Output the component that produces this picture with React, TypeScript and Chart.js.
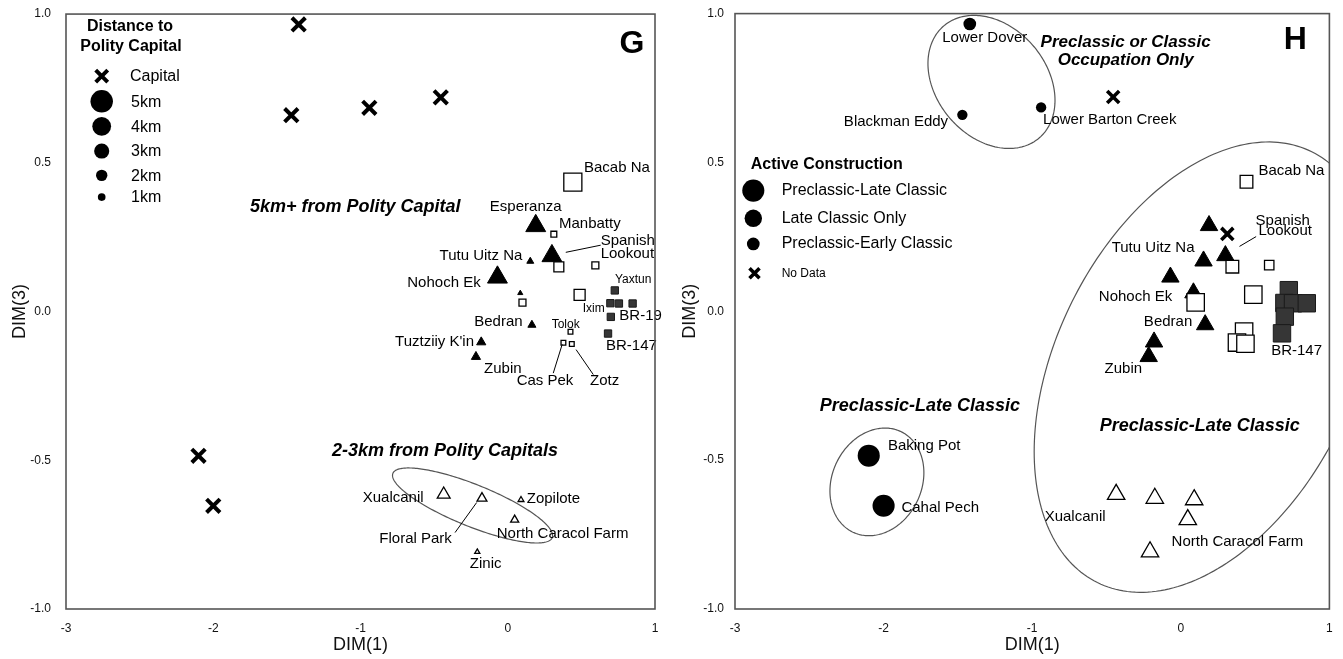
import React, { useEffect, useRef } from "react";
import { Chart, registerables } from "chart.js";

Chart.register(...registerables);

const FONT = '"Liberation Sans", Arial, Helvetica, sans-serif';

// ---------------- data ----------------
const SITE_NAMES = [
  "Lower Dover", "Blackman Eddy", "Lower Barton Creek", "Capital (unlabelled)", "Baking Pot", "Cahal Pech",
  "Bacab Na", "Esperanza", "Manbatty", "Spanish Lookout", "Site (unlabelled) 1", "Site (unlabelled) 2",
  "Tutu Uitz Na", "Nohoch Ek", "Site (unlabelled) 3", "Site (unlabelled) 4", "Site (unlabelled) 5",
  "Yaxtun", "Ixim", "Site (unlabelled) 6", "Site (unlabelled) 7", "BR-19", "BR-147",
  "Bedran", "Tolok", "Cas Pek", "Zotz", "Tuztziiy K'in", "Zubin",
  "Xualcanil", "Floral Park", "Zopilote", "North Caracol Farm", "Zinic",
];
const DIM1 = [
  -1.42, -1.47, -0.94, -0.455, -2.1, -2.0,
  0.442, 0.19, 0.313, 0.3, 0.347, 0.595,
  0.153, -0.07, 0.085, 0.1, 0.488,
  0.727, 0.697, 0.755, 0.848, 0.7, 0.681,
  0.164, 0.426, 0.378, 0.435, -0.18, -0.216,
  -0.435, -0.175, 0.09, 0.047, -0.207,
];
const DIM3 = [
  0.965, 0.66, 0.685, 0.72, -0.485, -0.653,
  0.435, 0.288, 0.26, 0.187, 0.15, 0.155,
  0.169, 0.115, 0.062, 0.03, 0.056,
  0.071, 0.028, 0.027, 0.027, -0.018, -0.074,
  -0.045, -0.068, -0.105, -0.109, -0.103, -0.152,
  -0.615, -0.628, -0.633, -0.7, -0.808,
];
const SITE_TYPE = [
  "capital", "capital", "capital", "capital", "capital", "capital",
  "openSquare", "filledTriangle", "openSquare", "filledTriangle", "openSquare", "openSquare",
  "filledTriangle", "filledTriangle", "filledTriangle", "openSquare", "openSquare",
  "filledSquare", "filledSquare", "filledSquare", "filledSquare", "filledSquare", "filledSquare",
  "filledTriangle", "openSquare", "openSquare", "openSquare", "filledTriangle", "filledTriangle",
  "openTriangle", "openTriangle", "openTriangle", "openTriangle", "openTriangle",
];
// panel G: marker size = distance to polity capital (km); capitals have none
const DISTANCE_KM = [
  null, null, null, null, null, null,
  3.8, 4.3, 0.5, 4.3, 1.6, 0.8,
  0.8, 4.3, 0.3, 0.8, 1.9,
  0.9, 0.9, 0.9, 0.9, 0.9, 0.9,
  1.1, 0.2, 0.2, 0.2, 1.4, 1.4,
  2.4, 1.6, 0.5, 1.1, 0.3,
];
// panel H: marker size = active construction level (3 Preclassic-Late Classic, 2 Late Classic Only, 1 Preclassic-Early Classic); null = no data
const CONSTRUCTION_LEVEL = [
  1, 0.5, 0.5, null, 3, 3,
  1, 2, null, 2, 1, 0.3,
  2, 2, 2, 2, 2,
  2, 2, 2, 2, 2, 2,
  2, 2, 2, 2, 2, 2,
  2, 2, 2, 2, 2,
];

const X_TICKS = [-3, -2, -1, 0, 1];
const Y_TICKS = [-1, -0.5, 0, 0.5, 1];

const DISTANCE_LEGEND_KM = [5, 4, 3, 2, 1];
const CONSTRUCTION_LEGEND = ["Preclassic-Late Classic", "Late Classic Only", "Preclassic-Early Classic"];
const CONSTRUCTION_LEGEND_LEVEL = [3, 2, 1];

// ---------------- annotations (data coordinates) ----------------
type Lbl = [string, number, number, CanvasTextAlign, number?];

const G_LABELS: Lbl[] = [
  ["Bacab Na", 0.518, 0.482, "left"],
  ["Esperanza", 0.122, 0.352, "center"],
  ["Manbatty", 0.348, 0.296, "left"],
  ["Spanish", 0.631, 0.237, "left"],
  ["Lookout", 0.631, 0.195, "left"],
  ["Tutu Uitz Na", 0.099, 0.187, "right"],
  ["Nohoch Ek", -0.184, 0.095, "right"],
  ["Yaxtun", 0.728, 0.106, "left", 12],
  ["Ixim", 0.509, 0.011, "left", 12],
  ["BR-19", 0.758, -0.013, "left"],
  ["Bedran", 0.101, -0.034, "right"],
  ["Tolok", 0.298, -0.045, "left", 12],
  ["Tuztziiy K'in", -0.229, -0.103, "right"],
  ["BR-147", 0.667, -0.117, "left"],
  ["Zubin", -0.161, -0.192, "left"],
  ["Cas Pek", 0.253, -0.234, "center"],
  ["Zotz", 0.559, -0.232, "left"],
  ["Xualcanil", -0.985, -0.627, "left"],
  ["Zopilote", 0.129, -0.629, "left"],
  ["Floral Park", -0.872, -0.765, "left"],
  ["North Caracol Farm", -0.075, -0.748, "left"],
  ["Zinic", -0.15, -0.847, "center"],
];
const G_TITLES: Lbl[] = [
  ["5km+ from Polity Capital", -1.75, 0.352, "left", 18],
  ["2-3km from Polity Capitals", 0.341, -0.469, "right", 18],
];
const G_LINES: number[][] = [
  [0.394, 0.199, 0.631, 0.223],
  [0.37, -0.11, 0.309, -0.207],
  [0.464, -0.128, 0.581, -0.212],
  [-0.358, -0.743, -0.211, -0.642],
];
// ellipse: centre, first semi-axis vector, second semi-axis vector (data units)
const G_ELLIPSES: number[][] = [[-0.239, -0.652, 0.541, -0.108, -0.0534, -0.0652]];

const H_LABELS: Lbl[] = [
  ["Lower Dover", -1.319, 0.918, "center"],
  ["Blackman Eddy", -1.566, 0.637, "right"],
  ["Lower Barton Creek", -0.927, 0.642, "left"],
  ["Bacab Na", 0.523, 0.471, "left"],
  ["Spanish", 0.503, 0.305, "left"],
  ["Lookout", 0.523, 0.271, "left"],
  ["Tutu Uitz Na", 0.092, 0.212, "right"],
  ["Nohoch Ek", -0.058, 0.05, "right"],
  ["Bedran", 0.077, -0.034, "right"],
  ["BR-147", 0.608, -0.134, "left"],
  ["Zubin", -0.513, -0.192, "left"],
  ["Baking Pot", -1.971, -0.452, "left"],
  ["Cahal Pech", -1.88, -0.661, "left"],
  ["Xualcanil", -0.916, -0.689, "left"],
  ["North Caracol Farm", -0.062, -0.775, "left"],
];
const H_TITLES: Lbl[] = [
  ["Preclassic or Classic", -0.371, 0.905, "center", 17],
  ["Occupation Only", -0.371, 0.844, "center", 17],
  ["Preclassic-Late Classic", -2.429, -0.318, "left", 18],
  ["Preclassic-Late Classic", -0.546, -0.385, "left", 18],
];
const H_LINES: number[][] = [[0.395, 0.218, 0.507, 0.251]];
const H_ELLIPSES: number[][] = [
  [-1.274, 0.7705, 0.3186, -0.1892, -0.285, -0.119],
  [-2.045, -0.573, 0.161, 0.169, 0.272, -0.0643],
  [0.16, -0.1876, 0.7213, 0.7236, 0.8914, -0.2204],
];

// ---------------- styling helpers ----------------
const gSize = (km: number) => 4 + 3.7 * km;
const hSize = (lvl: number) => 8 + 4.7 * lvl;
const radiusFor = (style: string, s: number) =>
  style === "rect" ? s / Math.SQRT2 : style === "triangle" ? s / Math.sqrt(3) : s / 2;

const TYPE_STYLE: Record<string, { style: string; bg: string; border: string; bw: number; order: number }> = {
  filledTriangle: { style: "triangle", bg: "#000", border: "#000", bw: 1, order: 6 },
  openSquare: { style: "rect", bg: "#fff", border: "#000", bw: 1.3, order: 5 },
  filledSquare: { style: "rect", bg: "#363636", border: "#1a1a1a", bw: 1, order: 4 },
  openTriangle: { style: "triangle", bg: "#fff", border: "#000", bw: 1.3, order: 3 },
};

function buildDatasets(panel: "G" | "H") {
  const sets: any[] = [];
  const idx = SITE_NAMES.map((_, i) => i);
  for (const t of Object.keys(TYPE_STYLE)) {
    const st = TYPE_STYLE[t];
    const members = idx.filter(
      (i) => SITE_TYPE[i] === t && (panel === "G" || CONSTRUCTION_LEVEL[i] !== null)
    );
    const radii = members.map((i) =>
      radiusFor(st.style, panel === "G" ? gSize(DISTANCE_KM[i] as number) : hSize(CONSTRUCTION_LEVEL[i] as number))
    );
    sets.push({
      label: t,
      data: members.map((i) => ({ x: DIM1[i], y: DIM3[i] })),
      pointStyle: st.style,
      pointRadius: radii,
      pointHoverRadius: radii,
      backgroundColor: st.bg,
      borderColor: st.border,
      pointBackgroundColor: st.bg,
      pointBorderColor: st.border,
      pointBorderWidth: st.bw,
      order: st.order,
    });
  }
  if (panel === "H") {
    const circ = idx.filter((i) => SITE_TYPE[i] === "capital" && CONSTRUCTION_LEVEL[i] !== null);
    const r = circ.map((i) => hSize(CONSTRUCTION_LEVEL[i] as number) / 2);
    sets.push({
      label: "capital",
      data: circ.map((i) => ({ x: DIM1[i], y: DIM3[i] })),
      pointStyle: "circle",
      pointRadius: r,
      pointHoverRadius: r,
      backgroundColor: "#000",
      borderColor: "#000",
      pointBorderWidth: 0,
      order: 2,
    });
  }
  const xs = idx.filter((i) =>
    panel === "G" ? SITE_TYPE[i] === "capital" : CONSTRUCTION_LEVEL[i] === null
  );
  const xr = panel === "G" ? 9.5 : 8.5;
  sets.push({
    label: "cross",
    data: xs.map((i) => ({ x: DIM1[i], y: DIM3[i] })),
    pointStyle: "crossRot",
    pointRadius: xr,
    pointHoverRadius: xr,
    backgroundColor: "#000",
    borderColor: "#000",
    pointBorderWidth: panel === "G" ? 4 : 3.6,
    order: 1,
  });
  return sets;
}

function drawX(ctx: CanvasRenderingContext2D, x: number, y: number, h: number, w: number) {
  ctx.save();
  ctx.strokeStyle = "#000";
  ctx.lineWidth = w;
  ctx.beginPath();
  ctx.moveTo(x - h, y - h);
  ctx.lineTo(x + h, y + h);
  ctx.moveTo(x + h, y - h);
  ctx.lineTo(x - h, y + h);
  ctx.stroke();
  ctx.restore();
}

function overlay(panel: "G" | "H") {
  const ellipses = panel === "G" ? G_ELLIPSES : H_ELLIPSES;
  const labels = panel === "G" ? G_LABELS : H_LABELS;
  const titles = panel === "G" ? G_TITLES : H_TITLES;
  const lines = panel === "G" ? G_LINES : H_LINES;
  return {
    id: "overlay" + panel,
    beforeDatasetsDraw(chart: any) {
      const { ctx, chartArea: a, scales } = chart;
      const sx = scales.x, sy = scales.y;
      ctx.save();
      ctx.beginPath();
      ctx.rect(a.left, a.top, a.right - a.left, a.bottom - a.top);
      ctx.clip();
      ctx.strokeStyle = "#555";
      ctx.lineWidth = 1.2;
      for (const e of ellipses) {
        ctx.beginPath();
        for (let k = 0; k <= 240; k++) {
          const t = (k / 240) * Math.PI * 2;
          const dx = e[0] + e[2] * Math.cos(t) + e[4] * Math.sin(t);
          const dy = e[1] + e[3] * Math.cos(t) + e[5] * Math.sin(t);
          const X = sx.getPixelForValue(dx), Y = sy.getPixelForValue(dy);
          if (k === 0) ctx.moveTo(X, Y); else ctx.lineTo(X, Y);
        }
        ctx.closePath();
        ctx.stroke();
      }
      ctx.restore();
    },
    afterDatasetsDraw(chart: any) {
      const { ctx, chartArea: a, scales } = chart;
      const sx = scales.x, sy = scales.y;
      ctx.save();
      // leader lines
      ctx.strokeStyle = "#000";
      ctx.lineWidth = 1;
      for (const l of lines) {
        ctx.beginPath();
        ctx.moveTo(sx.getPixelForValue(l[0]), sy.getPixelForValue(l[1]));
        ctx.lineTo(sx.getPixelForValue(l[2]), sy.getPixelForValue(l[3]));
        ctx.stroke();
      }
      ctx.fillStyle = "#000";
      ctx.textBaseline = "middle";
      for (const l of labels) {
        ctx.font = `${l[4] ?? 15}px ${FONT}`;
        ctx.textAlign = l[3];
        ctx.fillText(l[0], sx.getPixelForValue(l[1]), sy.getPixelForValue(l[2]));
      }
      for (const l of titles) {
        ctx.font = `italic bold ${l[4] ?? 18}px ${FONT}`;
        ctx.textAlign = l[3];
        ctx.fillText(l[0], sx.getPixelForValue(l[1]), sy.getPixelForValue(l[2]));
      }
      // legends
      if (panel === "G") {
        ctx.textAlign = "center";
        ctx.font = `bold 16px ${FONT}`;
        ctx.fillText("Distance to", a.left + 64, a.top + 13);
        ctx.fillText("Polity Capital", a.left + 65, a.top + 33);
        const rows = [62, 87.3, 112.3, 137, 161.3, 183];
        drawX(ctx, a.left + 35.7, a.top + rows[0], 6, 4);
        ctx.textAlign = "left";
        ctx.font = `16px ${FONT}`;
        ctx.fillText("Capital", a.left + 64, a.top + rows[0] + 1);
        DISTANCE_LEGEND_KM.forEach((km, i) => {
          const y = a.top + rows[i + 1];
          ctx.beginPath();
          ctx.arc(a.left + 35.7, y, gSize(km) / 2, 0, Math.PI * 2);
          ctx.fill();
          ctx.fillText(`${km}km`, a.left + 65, y + 1);
        });
        ctx.font = `bold 32px ${FONT}`;
        ctx.textAlign = "center";
        ctx.fillText("G", a.right - 23, a.top + 30);
      } else {
        ctx.textAlign = "left";
        ctx.font = `bold 16px ${FONT}`;
        ctx.fillText("Active Construction", a.left + 15.7, a.top + 151.3);
        const rows = [177, 204.7, 230.3, 259.7];
        ctx.font = `16px ${FONT}`;
        CONSTRUCTION_LEGEND.forEach((name, i) => {
          const y = a.top + rows[i];
          ctx.beginPath();
          ctx.arc(a.left + 18.3, y, hSize(CONSTRUCTION_LEGEND_LEVEL[i]) / 2, 0, Math.PI * 2);
          ctx.fill();
          ctx.fillText(name, a.left + 46.7, y);
        });
        drawX(ctx, a.left + 19.5, a.top + rows[3], 5, 3.6);
        ctx.font = `12px ${FONT}`;
        ctx.fillText("No Data", a.left + 46.7, a.top + rows[3]);
        ctx.font = `bold 32px ${FONT}`;
        ctx.textAlign = "center";
        ctx.fillText("H", a.right - 34, a.top + 27);
      }
      // frame
      ctx.strokeStyle = "#555";
      ctx.lineWidth = 1.6;
      ctx.strokeRect(a.left, a.top, a.right - a.left, a.bottom - a.top);
      ctx.restore();
    },
  };
}

function buildChart(canvas: HTMLCanvasElement, panel: "G" | "H") {
  const yWidth = panel === "G" ? 66 : 63;
  const rightPad = panel === "G" ? 17 : 13;
  const titlePad = panel === "G" ? 9 : 7;
  const tickPad = panel === "G" ? 15 : 11;
  return new Chart(canvas, {
    type: "scatter",
    data: { datasets: buildDatasets(panel) },
    plugins: [overlay(panel)],
    options: {
      animation: false,
      responsive: false,
      events: [],
      layout: { padding: { top: 12, right: rightPad, bottom: 0, left: 0 } },
      plugins: { legend: { display: false }, tooltip: { enabled: false } },
      scales: {
        x: {
          type: "linear",
          position: "bottom",
          min: -3,
          max: 1,
          afterBuildTicks: (s: any) => {
            s.ticks = X_TICKS.map((v) => ({ value: v }));
          },
          afterFit: (s: any) => {
            s.height = 50;
            s.paddingLeft = 0;
            s.paddingRight = 0;
          },
          grid: { display: false, drawTicks: false },
          border: { display: false },
          ticks: {
            autoSkip: false,
            maxRotation: 0,
            padding: 12,
            color: "#111",
            font: { family: FONT, size: 12 },
            callback: (v: any) => String(v),
          },
          title: {
            display: true,
            text: "DIM(1)",
            color: "#111",
            font: { family: FONT, size: 18 },
            padding: { top: 0, bottom: 3 },
          },
        },
        y: {
          type: "linear",
          position: "left",
          min: -1,
          max: 1,
          afterBuildTicks: (s: any) => {
            s.ticks = Y_TICKS.map((v) => ({ value: v }));
          },
          afterFit: (s: any) => {
            s.width = yWidth;
            s.paddingTop = 0;
            s.paddingBottom = 0;
          },
          grid: { display: false, drawTicks: false },
          border: { display: false },
          ticks: {
            autoSkip: false,
            padding: tickPad,
            color: "#111",
            font: { family: FONT, size: 12 },
            callback: (v: any) => Number(v).toFixed(1),
          },
          title: {
            display: true,
            text: "DIM(3)",
            color: "#111",
            font: { family: FONT, size: 18 },
            padding: { top: titlePad, bottom: 0 },
          },
        },
      },
    } as any,
  });
}

export default function App() {
  const gRef = useRef<HTMLCanvasElement>(null);
  const hRef = useRef<HTMLCanvasElement>(null);
  useEffect(() => {
    document.body.style.margin = "0";
    const g = buildChart(gRef.current as HTMLCanvasElement, "G");
    const h = buildChart(hRef.current as HTMLCanvasElement, "H");
    return () => {
      g.destroy();
      h.destroy();
    };
  }, []);
  return (
    <div style={{ position: "relative", width: 1343, height: 659, background: "#fff", overflow: "hidden" }}>
      <canvas ref={gRef} width={672} height={659} style={{ position: "absolute", left: 0, top: 0 }} />
      <canvas ref={hRef} width={671} height={659} style={{ position: "absolute", left: 672, top: 0 }} />
    </div>
  );
}
